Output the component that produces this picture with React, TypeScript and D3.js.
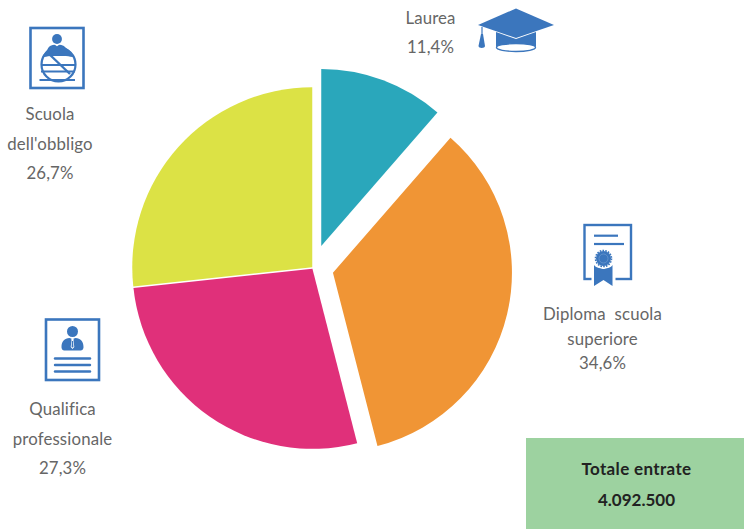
import React from "react";
import * as d3 from "d3";

const categories = ["Laurea", "Diploma scuola superiore", "Qualifica professionale", "Scuola dell'obbligo"];
const shares = [11.4, 34.6, 27.3, 26.7];
const sliceColors = ["#2aa7bb", "#f09535", "#e0307a", "#dce245"];
const explodeOffsets = [23.5, 20.5, 1, 1];
const sliceRadii = [177, 179, 180, 180];
const totalTitle = "Totale entrate";
const totalValue = "4.092.500";

const W = 744;
const H = 529;
const BLUE = "#3b76bd";
const GREY = "#666666";
const FONT = "Lato, Carlito, sans-serif";

function Label({ x, y, lines, dy = 29.5 }: { x: number; y: number; lines: string[]; dy?: number }) {
  return (
    <text textAnchor="middle" fontFamily={FONT} fontSize={16.8} letterSpacing={0.15} fill={GREY}>
      {lines.map((l, i) => (
        <tspan key={i} x={x} y={y + i * dy} style={{ whiteSpace: "pre" }}>
          {l}
        </tspan>
      ))}
    </text>
  );
}

function Person({ cx, top, s = 1 }: { cx: number; top: number; s?: number }) {
  return (
    <g transform={`translate(${cx},${top}) scale(${s})`} fill={BLUE}>
      <circle cx={0} cy={5.5} r={5.5} />
      <path d="M-11,21 C-11,15 -8,12.5 -3,12 L0,13 L3,12 C8,12.5 11,15 11,21 C11,24 9,24.5 7,24.5 L-7,24.5 C-9,24.5 -11,24 -11,21 Z" />
      <path d="M-1.2,12.5 L1.2,12.5 L1,15 L1.8,21 L0,23 L-1.8,21 L-1,15 Z" fill="#fff" />
      <path d="M-0.5,15 L0.5,15 L0.9,20.5 L0,21.8 L-0.9,20.5 Z" fill={BLUE} />
    </g>
  );
}

export default function App() {
  const pie = d3.pie<number>().sort(null).value((d) => d)(shares);
  const arc = d3.arc<d3.PieArcDatum<number>>().innerRadius(0);
  const cx = 313;
  const cy = 268;
  return (
    <svg
      width={W}
      height={H}
      viewBox={`0 0 ${W} ${H}`}
      style={{ position: "absolute", left: 0, top: 0, background: "#fff" }}
    >
      <g transform={`translate(${cx},${cy})`}>
        {pie.map((d, i) => {
          const mid = (d.startAngle + d.endAngle) / 2;
          const off = explodeOffsets[i];
          const dx = Math.sin(mid) * off;
          const dy = -Math.cos(mid) * off;
          return (
            <path
              key={categories[i]}
              d={arc.outerRadius(sliceRadii[i])(d) ?? ""}
              transform={`translate(${dx},${dy})`}
              fill={sliceColors[i]}
            />
          );
        })}
      </g>

      {/* Scuola dell'obbligo */}
      <rect x={30.5} y={28} width={53} height={60} fill="none" stroke={BLUE} strokeWidth={2.6} />
      <Person cx={57} top={34} s={0.9} />
      <g>
        <circle cx={58.5} cy={64.5} r={17} fill="none" stroke={BLUE} strokeWidth={2.2} />
        <path d="M42,58 C46,49 50,47 57,46 C66,47 70,49 75,58 C70,55 46,55 42,58 Z" fill={BLUE} />
        <line x1={48} y1={53} x2={70} y2={74} stroke={BLUE} strokeWidth={2.4} />
        <line x1={41} y1={65} x2={75} y2={65} stroke={BLUE} strokeWidth={2} />
        <line x1={41} y1={71.5} x2={75} y2={71.5} stroke={BLUE} strokeWidth={2} />
        <line x1={39.5} y1={80} x2={75} y2={80} stroke={BLUE} strokeWidth={2.2} />
      </g>
      <Label x={50} y={120} lines={["Scuola", "dell'obbligo", "26,7%"]} />

      {/* Laurea */}
      <Label x={430.5} y={24} lines={["Laurea", "11,4%"]} dy={29} />
      <g fill={BLUE}>
        <path d="M478,25 L516,8.5 L554,25 L516,38 Z" />
        <path d="M496,32 L516,39 L536,32 L536,47 C530,44 502,44 496,47 Z" />
        <ellipse cx={516} cy={47.5} rx={19.5} ry={4} fill="#fff" stroke={BLUE} strokeWidth={1.4} />
        <line x1={482} y1={27} x2={482} y2={36} stroke={BLUE} strokeWidth={1.2} />
        <path d="M481,34 L483,34 L485,46 C485,48.5 478.5,48.5 478.5,46 Z" />
      </g>

      {/* Diploma */}
      <rect x={584.5} y={225} width={46.5} height={54} fill="none" stroke={BLUE} strokeWidth={2.4} />
      <line x1={594} y1={235.7} x2={618} y2={235.7} stroke={BLUE} strokeWidth={2.2} />
      <line x1={594} y1={244} x2={624} y2={244} stroke={BLUE} strokeWidth={2.2} />
      <rect x={591.5} y={262} width={24} height={20} fill="#fff" />
      <path d="M594,265 C597,269 600,267 603.5,269 C607,267 610,269 612.5,265 L612.5,286 L603.5,280 L594,286 Z" fill={BLUE} />
      <circle cx={603.5} cy={258.5} r={10.5} fill="#fff" />
      <circle cx={603.5} cy={258.5} r={7.5} fill={BLUE} />
      <circle cx={603.5} cy={258.5} r={8} fill="none" stroke={BLUE} strokeWidth={1.6} strokeDasharray="1.6 1.2" />
      <circle cx={603.5} cy={258.5} r={4.5} fill="none" stroke="#6f9bd0" strokeWidth={0.7} />

      <Label x={602.5} y={320} lines={["Diploma  scuola", "superiore", "34,6%"]} dy={24.5} />

      {/* Qualifica */}
      <rect x={46} y={319.5} width={53} height={60.5} fill="none" stroke={BLUE} strokeWidth={2.6} />
      <Person cx={72.5} top={326} />
      <line x1={55} y1={358.5} x2={90} y2={358.5} stroke={BLUE} strokeWidth={2.4} strokeLinecap="round" />
      <line x1={55} y1={365} x2={90} y2={365} stroke={BLUE} strokeWidth={2.4} strokeLinecap="round" />
      <line x1={55} y1={371.5} x2={90} y2={371.5} stroke={BLUE} strokeWidth={2.4} strokeLinecap="round" />
      <Label x={62.5} y={415} lines={["Qualifica", "professionale", "27,3%"]} dy={29.5} />

      {/* Totale */}
      <rect x={526} y={438} width={218} height={91} fill="#9dd2a0" />
      <text textAnchor="middle" fontFamily={FONT} fontWeight={700} fontSize={17} fill="#222">
        <tspan x={636.5} y={475} letterSpacing={0.35}>{totalTitle}</tspan>
        <tspan x={636.5} y={506}>{totalValue}</tspan>
      </text>
    </svg>
  );
}
